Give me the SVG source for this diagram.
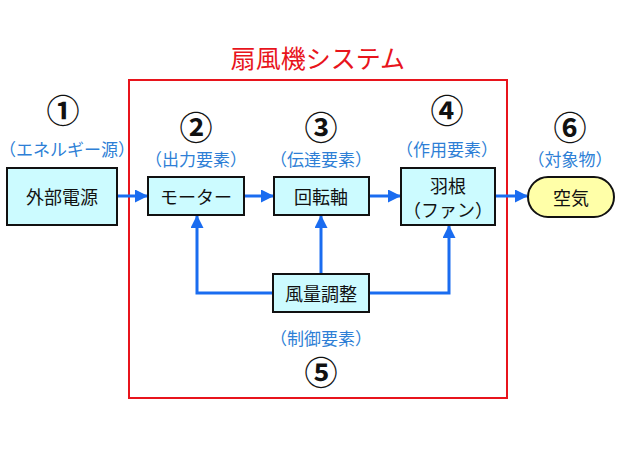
<svg xmlns="http://www.w3.org/2000/svg" width="620" height="465" viewBox="0 0 620 465">
<defs>
<marker id="ah" markerWidth="13" markerHeight="13" refX="12" refY="6.5" orient="auto" markerUnits="userSpaceOnUse" viewBox="0 0 13 13">
<path d="M0,0 L13,6.5 L0,13 Z" fill="#1a6cf0"/>
</marker>
<style>
text{font-family:"Noto Sans CJK JP","Noto Sans",sans-serif;text-anchor:middle;dominant-baseline:central}
.box{fill:#ccfbff;stroke:#111;stroke-width:2}
.pill{fill:#ffffa8;stroke:#111;stroke-width:2}
.t{font-size:18px;fill:#111}
.lbl{font-size:17px;fill:#2e7fd6}
.num{font-size:33px;font-weight:bold;fill:#111}
.c{fill:none;stroke:#1a6cf0;stroke-width:3}
</style>
</defs>
<rect width="620" height="465" fill="#fff"/>
<rect x="129" y="80" width="378" height="318" fill="none" stroke="#e8141c" stroke-width="2"/>
<text x="318" y="57" font-size="25" fill="#e8141c">扇風機システム</text>

<g id="connectors">
<line class="c" x1="117" y1="196" x2="147" y2="196" marker-end="url(#ah)"/>
<line class="c" x1="244" y1="196" x2="273" y2="196" marker-end="url(#ah)"/>
<line class="c" x1="369" y1="196" x2="400" y2="196" marker-end="url(#ah)"/>
<line class="c" x1="495" y1="196" x2="527" y2="196" marker-end="url(#ah)"/>
<polyline class="c" points="273,293 197,293 197,216" marker-end="url(#ah)"/>
<line class="c" x1="321" y1="274" x2="321" y2="216" marker-end="url(#ah)"/>
<polyline class="c" points="369,293 449,293 449,226" marker-end="url(#ah)"/>
</g>

<g id="n1">
<text class="num" x="63" y="109">①</text>
<text class="lbl" x="67" y="148" font-size="16">（エネルギー源）</text>
<rect class="box" x="7" y="168" width="110" height="57"/>
<text class="t" x="62" y="196">外部電源</text>
</g>
<g id="n2">
<text class="num" x="196" y="126">②</text>
<text class="lbl" x="196" y="158">（出力要素）</text>
<rect class="box" x="148" y="177" width="96" height="38"/>
<text class="t" x="196" y="196">モーター</text>
</g>
<g id="n3">
<text class="num" x="321" y="126">③</text>
<text class="lbl" x="321" y="158">（伝達要素）</text>
<rect class="box" x="274" y="177" width="95" height="38"/>
<text class="t" x="321" y="196">回転軸</text>
</g>
<g id="n4">
<text class="num" x="447" y="109">④</text>
<text class="lbl" x="447" y="148">（作用要素）</text>
<rect class="box" x="401" y="168" width="94" height="57"/>
<text class="t" x="448" y="185">羽根</text>
<text class="t" x="448" y="209">（ファン）</text>
</g>
<g id="n5">
<rect class="box" x="273" y="274" width="96" height="38"/>
<text class="t" x="321" y="293">風量調整</text>
<text class="lbl" x="321" y="337">（制御要素）</text>
<text class="num" x="321" y="371">⑤</text>
</g>
<g id="n6">
<text class="num" x="570" y="126">⑥</text>
<text class="lbl" x="570" y="158">（対象物）</text>
<rect class="pill" x="528" y="177" width="86" height="40" rx="20" ry="20"/>
<text class="t" x="571" y="197">空気</text>
</g>
</svg>
